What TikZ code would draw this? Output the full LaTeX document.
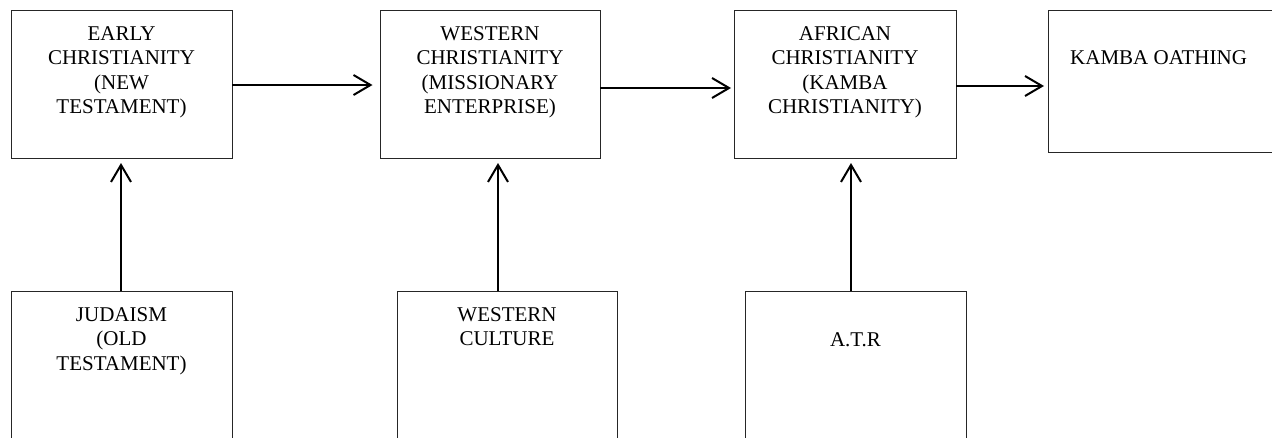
\documentclass[tikz,border=0pt]{standalone}
\usepackage{fontspec}
\setmainfont{Liberation Serif}
\usetikzlibrary{arrows.meta}
\tikzset{
  box/.style={draw=black!85, line width=0.9pt, inner sep=0pt, outer sep=0pt, fill=none},
  lbl/.style={font=\fontsize{21}{24.5}\selectfont, align=center, inner sep=0pt, outer sep=0pt, anchor=north},
  conn/.style={draw=black, line width=2pt, -{Straight Barb[length=17pt,width=20pt,line width=2pt]}},
}
\newcommand{\firstline}{\rule{0pt}{15pt}}
\begin{document}
\begin{tikzpicture}[x=1pt,y=-1pt]
\useasboundingbox[fill=white] (0,0) rectangle (1272,437);
% top boxes
\node[box, minimum width=221pt, minimum height=148pt] (b1) at (121.5,84) {};
\node[box, minimum width=220pt, minimum height=148pt] (b2) at (490,84) {};
\node[box, minimum width=222pt, minimum height=148pt] (b3) at (845,84) {};
\node[box, minimum width=242pt, minimum height=142pt] (b4) at (1169,81) {};
% bottom boxes
\node[box, minimum width=221pt, minimum height=169pt] (b5) at (121.5,375.5) {};
\node[box, minimum width=220pt, minimum height=169pt] (b6) at (507,375.5) {};
\node[box, minimum width=221pt, minimum height=169pt] (b7) at (855.5,375.5) {};
% texts
\node[lbl] (t1) at (121.5,25) {\firstline EARLY\\CHRISTIANITY\\(NEW\\TESTAMENT)};
\node[lbl] (t2) at (490,25) {\firstline WESTERN\\CHRISTIANITY\\(MISSIONARY\\ENTERPRISE)};
\node[lbl] (t3) at (845,25) {\firstline AFRICAN\\CHRISTIANITY\\(KAMBA\\CHRISTIANITY)};
\node[font=\fontsize{21}{24.5}\selectfont, inner sep=0pt, anchor=base west] (t4) at (1070,64) {KAMBA OATHING};
\node[lbl] (t5) at (121.5,306) {\firstline JUDAISM\\(OLD\\TESTAMENT)};
\node[lbl] (t6) at (507,306) {\firstline WESTERN\\CULTURE};
\node[lbl] (t7) at (855.5,331) {\firstline A.T.R};
% connectors
\draw[conn, shorten >=7.5pt] ([yshift=-1pt]b1.east) -- ([yshift=-1pt]b2.west);
\draw[conn, shorten >=3pt] ([yshift=-4pt]b2.east) -- ([yshift=-4pt]b3.west);
\draw[conn, shorten >=4pt] ([yshift=-2pt]b3.east) -- ([yshift=-5pt]b4.west);
\draw[conn, shorten >=5pt] ([xshift=-0.5pt]b5.north) -- ([xshift=-0.5pt]b1.south);
\draw[conn, shorten >=5pt] ([xshift=-9pt]b6.north) -- ([xshift=8pt]b2.south);
\draw[conn, shorten >=5pt] ([xshift=-4.5pt]b7.north) -- ([xshift=6pt]b3.south);
\end{tikzpicture}
\end{document}
